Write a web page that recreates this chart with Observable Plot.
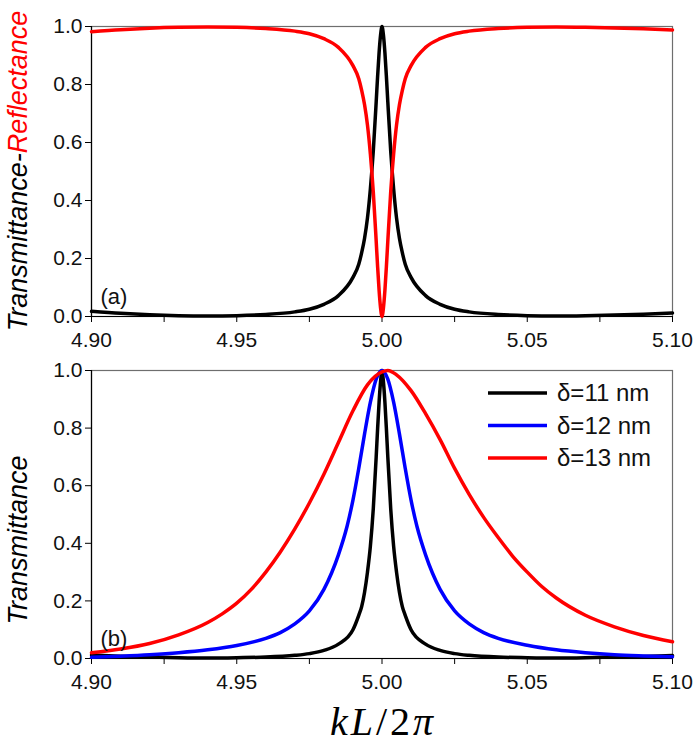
<!DOCTYPE html>
<html><head><meta charset="utf-8">
<script src="https://cdn.jsdelivr.net/npm/d3@7"></script>
<script src="https://cdn.jsdelivr.net/npm/@observablehq/plot@0.6"></script>
<style>body{margin:0;background:#fff} svg{display:block}</style>
</head><body><div id="chart"></div>
<script>
// ---- data ----
const xNarrow = [4.900,4.910,4.920,4.930,4.940,4.950,4.960,4.970,4.975,4.980,4.985,4.990,4.992,4.993,4.994,4.995,4.996,4.997,4.998,4.9985,4.999,4.9995,5.000,
  5.0005,5.001,5.0015,5.002,5.003,5.004,5.005,5.006,5.007,5.008,5.010,5.015,5.020,5.025,5.030,5.040,5.050,5.060,5.070,5.080,5.090,5.100];
const transTop = [0.018,0.011,0.006,0.003,0.002,0.003,0.007,0.016,0.025,0.042,0.072,0.135,0.18,0.22,0.27,0.34,0.44,0.57,0.74,0.83,0.91,0.97,1.0,
  0.97,0.91,0.83,0.74,0.57,0.44,0.34,0.27,0.22,0.18,0.135,0.072,0.042,0.025,0.016,0.007,0.003,0.002,0.003,0.005,0.008,0.012];
const reflTop = [0.982,0.989,0.994,0.997,0.998,0.997,0.993,0.984,0.975,0.958,0.928,0.865,0.82,0.78,0.73,0.66,0.56,0.43,0.26,0.17,0.09,0.03,0.0,
  0.03,0.09,0.17,0.26,0.43,0.56,0.66,0.73,0.78,0.82,0.865,0.928,0.958,0.975,0.984,0.993,0.997,0.998,0.997,0.995,0.992,0.988];
const trans11 = [0.012,0.008,0.005,0.003,0.002,0.003,0.005,0.011,0.017,0.028,0.05,0.10,0.15,0.18,0.23,0.30,0.39,0.52,0.70,0.80,0.89,0.96,1.0,
  0.96,0.89,0.80,0.70,0.52,0.39,0.30,0.23,0.18,0.15,0.10,0.05,0.028,0.017,0.011,0.005,0.003,0.002,0.003,0.005,0.007,0.010];
const x12 = [4.90,4.91,4.92,4.93,4.94,4.95,4.96,4.965,4.97,4.975,4.98,4.985,4.988,4.99,4.992,4.994,4.996,4.998,5.000,
  5.002,5.004,5.006,5.008,5.010,5.012,5.015,5.020,5.025,5.030,5.035,5.040,5.050,5.060,5.070,5.080,5.090,5.100];
const trans12 = [0.004,0.008,0.013,0.02,0.03,0.045,0.07,0.09,0.12,0.165,0.24,0.36,0.46,0.55,0.66,0.78,0.89,0.97,1.0,
  0.97,0.89,0.78,0.66,0.55,0.46,0.36,0.24,0.165,0.12,0.09,0.07,0.046,0.03,0.02,0.013,0.009,0.006];
const x13 = [4.90,4.91,4.92,4.93,4.94,4.945,4.95,4.955,4.96,4.965,4.97,4.975,4.98,4.985,4.99,4.995,5.000,5.002,5.005,5.01,5.015,5.02,5.025,5.03,5.035,5.04,5.045,5.05,5.055,5.06,5.07,5.08,5.09,5.10];
const trans13 = [0.02,0.033,0.052,0.082,0.125,0.155,0.192,0.24,0.30,0.37,0.45,0.54,0.64,0.75,0.86,0.95,0.995,1.0,0.985,0.93,0.85,0.76,0.66,0.57,0.49,0.42,0.355,0.30,0.25,0.21,0.15,0.11,0.08,0.058];

const seriesNames = ["δ=11 nm","δ=12 nm","δ=13 nm"];
const seriesColors = ["#000000","#0000ff","#ff0000"];

const xTicks = [4.900,4.925,4.950,4.975,5.000,5.025,5.050,5.075,5.100];
const xTickLabels = ["4.90","","4.95","","5.00","","5.05","","5.10"];
const yTicks = [0,0.2,0.4,0.6,0.8,1.0];
const yTickLabels = ["0.0","0.2","0.4","0.6","0.8","1.0"];

// ---- tables ----
const topRows = xNarrow.flatMap((x,i)=>[{x, y: transTop[i], s:"T"}, {x, y: reflTop[i], s:"R"}]);
const botRows = [
  ...xNarrow.map((x,i)=>({x, y: trans11[i], s: seriesNames[0]})),
  ...x12.map((x,i)=>({x, y: trans12[i], s: seriesNames[1]})),
  ...x13.map((x,i)=>({x, y: trans13[i], s: seriesNames[2]}))
];

const xLab = new Map(xTicks.map((t,i)=>[t, xTickLabels[i]]));
const yLab = new Map(yTicks.map((t,i)=>[t, yTickLabels[i]]));
const FONT = "'Liberation Sans', Arial, sans-serif";

function panel({height, marginTop, marginBottom, rows, colorDomain, colorRange, tag, tickPadX}) {
  return Plot.plot({
    width: 695, height, marginLeft: 91, marginRight: 23, marginTop, marginBottom,
    style: {fontFamily: FONT, fontSize: "21px", color: "#111", background: "#fff", overflow: "visible"},
    x: {domain: [4.9, 5.1]},
    y: {domain: [0, 1]},
    color: {domain: colorDomain, range: colorRange},
    marks: [
      Plot.frame({stroke: "#6e6e6e", strokeWidth: 1.2}),
      Plot.axisX({ticks: xTicks, tickFormat: d => xLab.get(d), tickSize: 6, tickPadding: tickPadX, label: null, stroke: "#000"}),
      Plot.axisY({ticks: yTicks, tickFormat: d => yLab.get(d), tickSize: 6, tickPadding: 3, label: null, stroke: "#000"}),
      Plot.ruleX([4.9], {stroke: "#000", strokeWidth: 1.2}),
      Plot.ruleY([0], {stroke: "#000", strokeWidth: 1.2}),
      Plot.line(rows, {x: "x", y: "y", z: "s", stroke: "s", strokeWidth: 3.5, curve: "monotone-x", strokeLinejoin: "round"}),
      Plot.text([tag], {frameAnchor: "bottom-left", dx: 9, dy: -13, fontSize: 22, fill: "#111"})
    ]
  });
}

const topPanel = panel({height: 350, marginTop: 26, marginBottom: 34, rows: topRows,
  colorDomain: ["R","T"], colorRange: ["#ff0000","#000000"], tag: "(a)", tickPadX: 10});
const botPanel = panel({height: 400, marginTop: 20, marginBottom: 92, rows: botRows,
  colorDomain: seriesNames, colorRange: seriesColors, tag: "(b)", tickPadX: 10});

// y-axis titles
const tsel = d3.select(topPanel);
const t1 = tsel.append("text")
  .attr("transform", "translate(27,171) rotate(-90)")
  .attr("text-anchor", "middle")
  .attr("font-family", FONT).attr("font-style", "italic").attr("font-size", 27);
t1.append("tspan").attr("fill", "#000").text("Transmittance-");
t1.append("tspan").attr("fill", "#ff0000").text("Reflectance");

const bsel = d3.select(botPanel);
bsel.append("text")
  .attr("transform", "translate(27,190) rotate(-90)")
  .attr("text-anchor", "middle")
  .attr("font-family", FONT).attr("font-style", "italic").attr("font-size", 27)
  .attr("fill", "#000").text("Transmittance");

// legend
const lg = bsel.append("g");
seriesNames.forEach((name, i) => {
  const y = 43 + i * 32.5;
  lg.append("line").attr("x1", 488).attr("x2", 547).attr("y1", y).attr("y2", y)
    .attr("stroke", seriesColors[i]).attr("stroke-width", 3.5);
  lg.append("text").attr("x", 557).attr("y", y).attr("dy", "0.35em").attr("text-anchor", "start")
    .attr("font-family", FONT).attr("font-size", 24).attr("fill", "#111").text(name);
});

// x-axis title kL/2π
const xt = bsel.append("text").attr("x", 383).attr("y", 385).attr("text-anchor", "middle")
  .attr("letter-spacing", "3px")
  .attr("font-family", "'Liberation Serif', 'DejaVu Serif', serif").attr("font-size", 40).attr("fill", "#000");
xt.append("tspan").attr("font-style", "italic").text("kL");
xt.append("tspan").text("/2");
xt.append("tspan").attr("font-style", "italic").text("π");

document.getElementById("chart").append(topPanel, botPanel);
</script></body></html>
